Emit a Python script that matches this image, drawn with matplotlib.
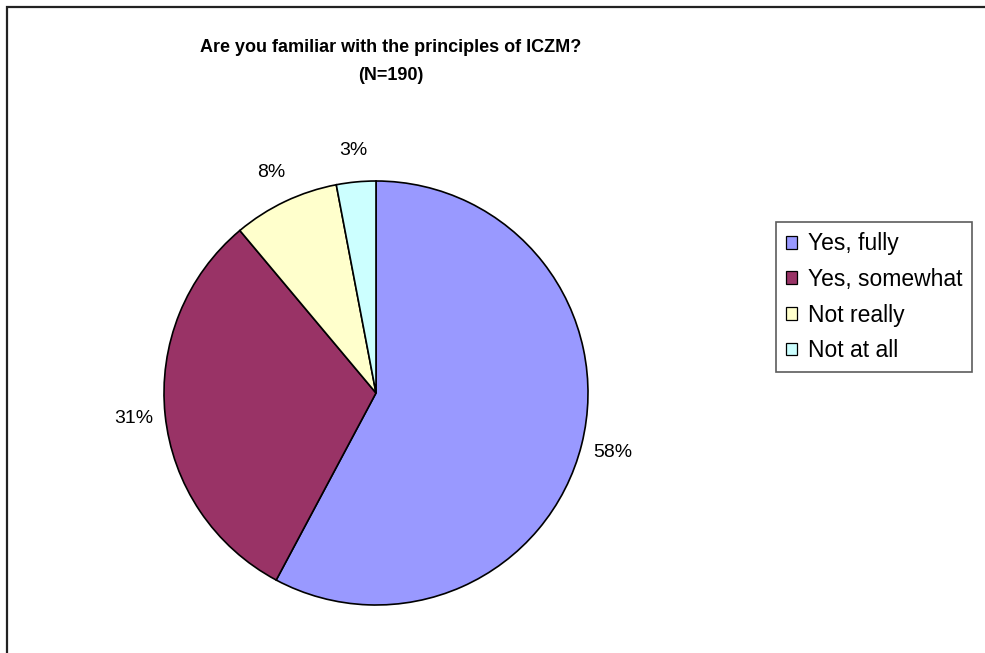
import matplotlib
matplotlib.use("Agg")
import matplotlib.pyplot as plt
from matplotlib.patches import Rectangle
import numpy as np

# survey answers, percent of N=190
categories = ["Yes, fully", "Yes, somewhat", "Not really", "Not at all"]
values = [57.8, 31.1, 8.1, 3.0]
labels = ["58%", "31%", "8%", "3%"]
colors = ["#9999FF", "#993366", "#FFFFCC", "#CCFFFF"]

plt.rcParams["font.family"] = ["Liberation Sans", "DejaVu Sans"]

fig = plt.figure(figsize=(9.85, 6.53), dpi=100)

# chart area border (only top and left are visible in the original)
fig.patches.append(Rectangle((7 / 985, -0.05), 1.1, 1 - 7 / 653 + 0.05,
                             transform=fig.transFigure, fill=False,
                             edgecolor="#222222", linewidth=1.6))

cx, cy, r = 376, 393, 212
ax = fig.add_axes([(cx - r) / 985, (653 - cy - r) / 653, 2 * r / 985, 2 * r / 653])
wedges, _ = ax.pie(values, colors=colors, startangle=90, counterclock=False,
                   wedgeprops=dict(edgecolor="black", linewidth=1.2))
for w, lab in zip(wedges, labels):
    ang = np.deg2rad((w.theta1 + w.theta2) / 2)
    ax.text(1.15 * np.cos(ang), 1.15 * np.sin(ang), lab, ha="center",
            va="center", fontsize=14)
ax.set_xlim(-1, 1)
ax.set_ylim(-1, 1)
ax.set_aspect("equal")
ax.axis("off")

fig.text(391 / 985, 1 - 47 / 653, "Are you familiar with the principles of ICZM?",
         ha="center", va="center", fontsize=13, fontweight="bold")
fig.text(391 / 985, 1 - 76 / 653, "(N=190)",
         ha="center", va="center", fontsize=13, fontweight="bold")

leg = fig.legend(wedges, categories, loc="upper left",
                 bbox_to_anchor=(776 / 985, 1 - 222 / 653), fontsize=16.5,
                 frameon=True, fancybox=False, shadow=False,
                 handlelength=0.48, handleheight=0.48, handletextpad=0.45,
                 labelspacing=0.55, borderpad=0.45, borderaxespad=0)
leg.get_frame().set_edgecolor("#333333")
leg.get_frame().set_linewidth(1.2)
for h in leg.legend_handles:
    h.set_linewidth(0.9)

fig.savefig("out.png", dpi=100)
